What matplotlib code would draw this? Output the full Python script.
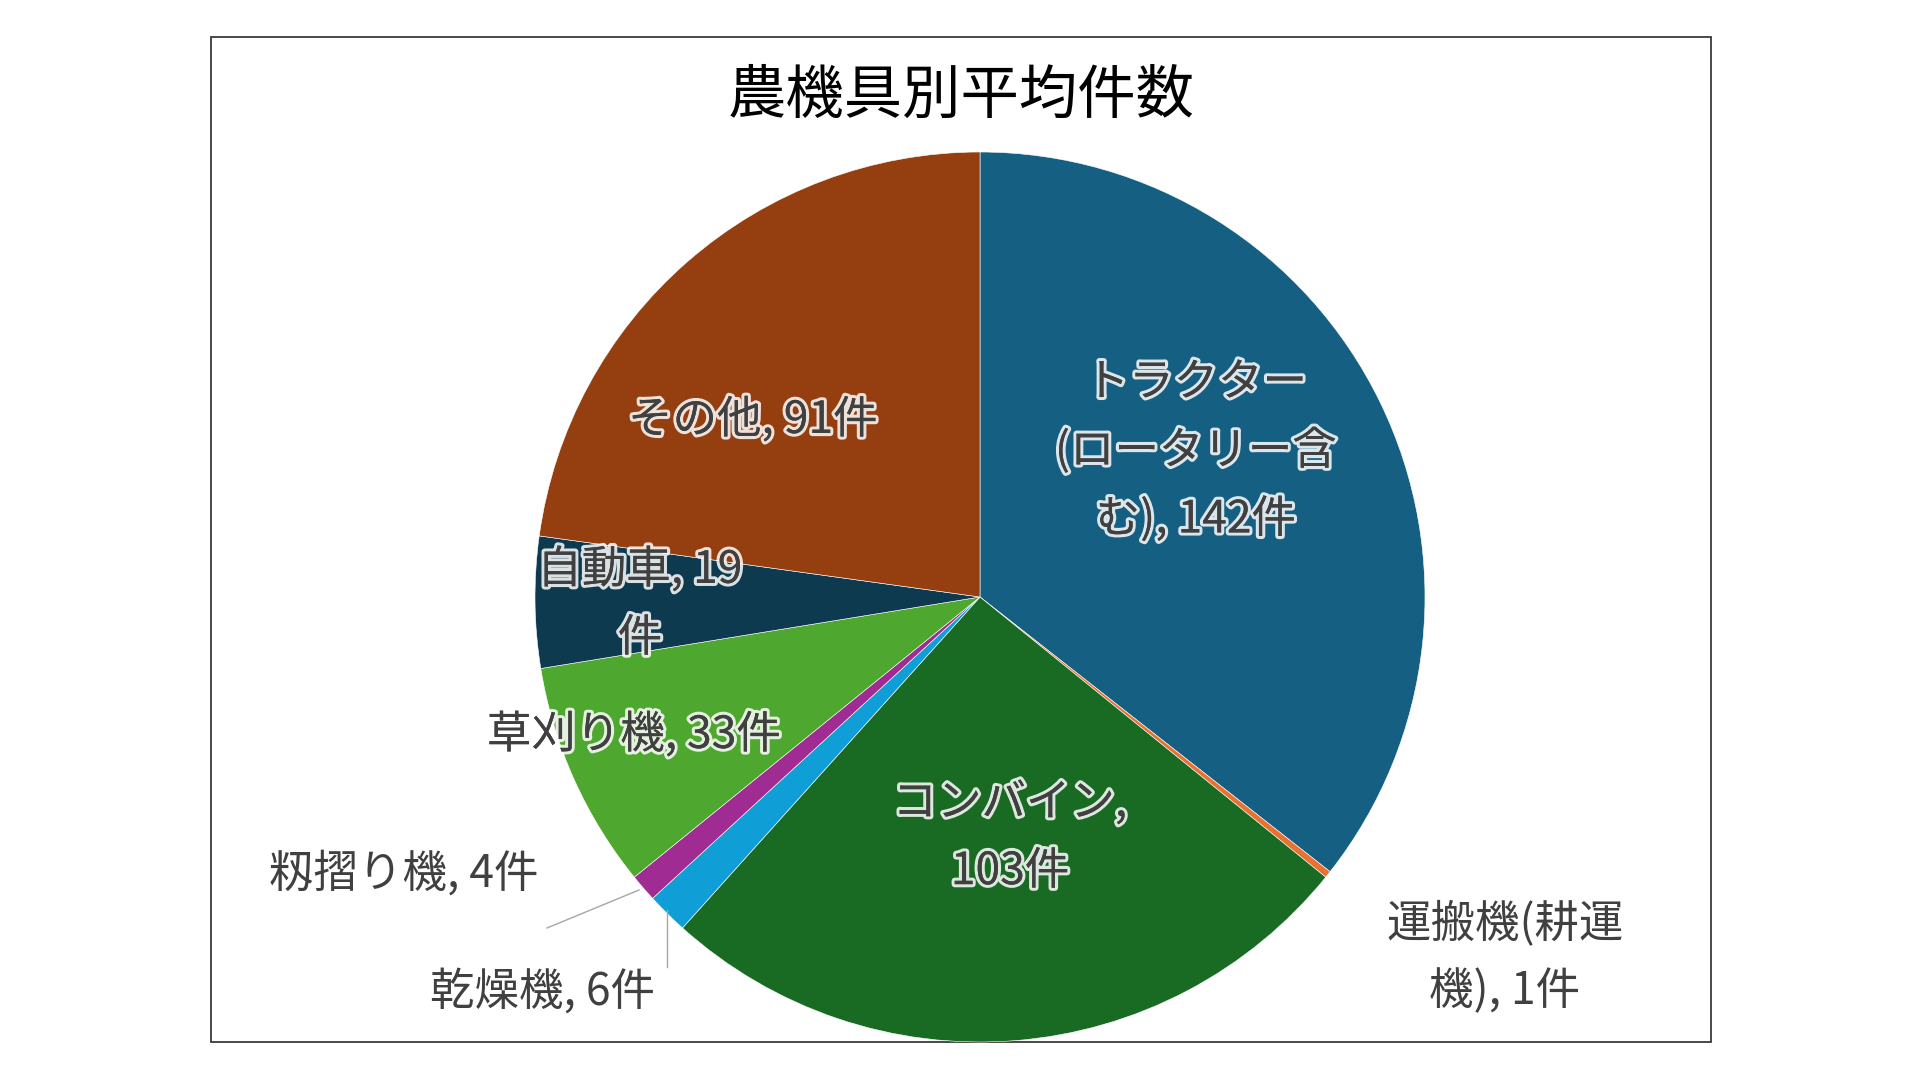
import matplotlib
matplotlib.use("Agg")
import matplotlib.pyplot as plt
import matplotlib.patheffects as pe
from matplotlib.patches import Rectangle

plt.rcParams["font.family"] = ["Noto Sans CJK JP", "DejaVu Sans"]

# データ (時計回り、12時方向から)
title = "農機具別平均件数"
names = ["トラクター(ロータリー含む)", "運搬機(耕運機)", "コンバイン", "乾燥機",
         "籾摺り機", "草刈り機", "自動車", "その他"]
values = [142, 1, 103, 6, 4, 33, 19, 91]
colors = ["#156082", "#E97132", "#196B24", "#0F9ED5",
          "#A02B93", "#4EA72E", "#0E3A4F", "#953E10"]
# ラベル表示 (改行位置は元図どおり)
label_fmt = ["トラクター\n(ロータリー含\nむ), {}件", "運搬機(耕運\n機), {}件", "コンバイン,\n{}件",
             "乾燥機, {}件", "籾摺り機, {}件", "草刈り機, {}件", "自動車, {}\n件", "その他, {}件"]

W, H = 1920, 1077
# レイアウト (画像ピクセル座標, y は上から)
CX, CY, R = 980, 597, 445
label_xy = [(1196, 451), (1505, 957), (1010, 837), (542, 992),
            (404, 874), (634, 735), (640, 604), (753, 420)]
inside = [True, False, True, False, False, True, True, True]
leaders = {3: [(667, 910), (667, 967)], 4: [(639, 890), (547, 928)]}

fig = plt.figure(figsize=(W / 100, H / 100), dpi=100)
ax = fig.add_axes([0, 0, 1, 1])

ax.add_patch(Rectangle((211, H - 1042), 1500, 1005, fill=False,
                       edgecolor="#3a3a3a", linewidth=1.3, zorder=1))

ax.pie(values, colors=colors, startangle=90, counterclock=False,
       center=(CX, H - CY), radius=R, frame=True,
       wedgeprops=dict(linewidth=0.4, edgecolor="white"))
ax.set_xlim(0, W)
ax.set_ylim(0, H)
ax.set_aspect("equal")
ax.axis("off")

glow = [pe.withStroke(linewidth=4.5, foreground="white", alpha=0.85), pe.Normal()]
for i, (fmt, v) in enumerate(zip(label_fmt, values)):
    x, y = label_xy[i]
    t = ax.text(x, H - y, fmt.format(v), ha="center", va="center",
                fontsize=32, color="#404040", linespacing=1.62, zorder=5)
    if inside[i]:
        t.set_path_effects(glow)

for i, pts in leaders.items():
    ax.plot([p[0] for p in pts], [H - p[1] for p in pts],
            color="#A6A6A6", linewidth=1.0, zorder=4)

ax.text(961, H - 96, title, ha="center", va="center", fontsize=42, color="black")

fig.savefig("out.png", dpi=100)
